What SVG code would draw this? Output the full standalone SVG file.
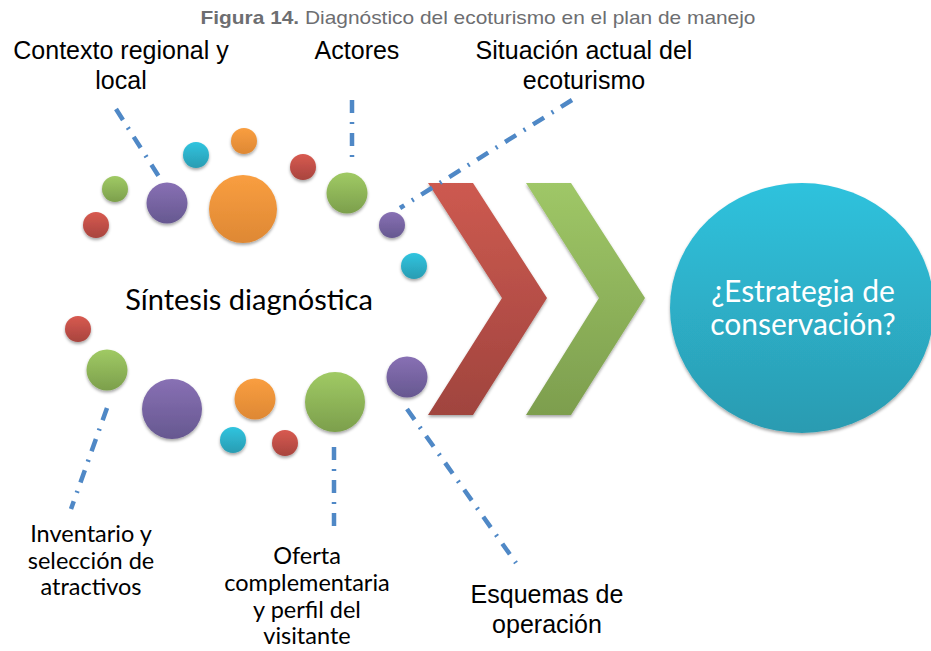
<svg xmlns="http://www.w3.org/2000/svg" width="931" height="651" viewBox="0 0 931 651">
<defs>
<linearGradient id="gRed" x1="0" y1="0" x2="0" y2="1"><stop offset="0" stop-color="#d85a50"/><stop offset="1" stop-color="#a8443e"/></linearGradient>
<linearGradient id="gGreen" x1="0" y1="0" x2="0" y2="1"><stop offset="0" stop-color="#a0ca64"/><stop offset="1" stop-color="#7c9f4c"/></linearGradient>
<linearGradient id="gPurple" x1="0" y1="0" x2="0" y2="1"><stop offset="0" stop-color="#8870b4"/><stop offset="1" stop-color="#665890"/></linearGradient>
<linearGradient id="gOrange" x1="0" y1="0" x2="0" y2="1"><stop offset="0" stop-color="#f99e40"/><stop offset="1" stop-color="#de8834"/></linearGradient>
<linearGradient id="gCyan" x1="0" y1="0" x2="0" y2="1"><stop offset="0" stop-color="#30c4df"/><stop offset="1" stop-color="#2a9cb2"/></linearGradient>
<linearGradient id="gBig" x1="0" y1="0" x2="0" y2="1"><stop offset="0" stop-color="#2fc2dd"/><stop offset="1" stop-color="#2b9bb1"/></linearGradient>
<linearGradient id="gChevR" x1="0" y1="0" x2="0" y2="1"><stop offset="0" stop-color="#cd5a50"/><stop offset="1" stop-color="#a0443e"/></linearGradient>
<linearGradient id="gChevG" x1="0" y1="0" x2="0" y2="1"><stop offset="0" stop-color="#9fc767"/><stop offset="1" stop-color="#7d9e4e"/></linearGradient>
<filter id="sh" x="-30%" y="-30%" width="160%" height="170%"><feDropShadow dx="0" dy="2" stdDeviation="1.6" flood-color="#000" flood-opacity="0.35"/></filter>
</defs>
<style>
.lbl{font-family:"Liberation Sans",Arial,sans-serif;font-size:25px;fill:#000;text-anchor:middle}
.lbl2{font-family:Lato,"Open Sans",sans-serif;font-size:23.5px;fill:#000;text-anchor:middle}
.conn{stroke:#4f88c6;stroke-width:4.5;fill:none;stroke-dasharray:13 9 2 9}
.r{fill:url(#gRed)}.g{fill:url(#gGreen)}.p{fill:url(#gPurple)}.o{fill:url(#gOrange)}.c{fill:url(#gCyan)}
circle{filter:url(#sh)}
</style>
<rect width="931" height="651" fill="#fff"/>
<text x="478" y="24" font-family="Liberation Sans,Arial,sans-serif" font-size="19" fill="#6d6e71" text-anchor="middle" textLength="555" lengthAdjust="spacingAndGlyphs"><tspan font-weight="bold">Figura 14.</tspan> Diagnóstico del ecoturismo en el plan de manejo</text>

<g id="bubbles">
<circle class="r" cx="96" cy="225" r="13"/>
<circle class="g" cx="115" cy="189" r="13"/>
<circle class="p" cx="167" cy="203" r="20.5"/>
<circle class="c" cx="196" cy="155" r="13"/>
<circle class="o" cx="244" cy="141" r="13"/>
<circle class="o" cx="243" cy="209" r="34"/>
<circle class="r" cx="303" cy="167" r="13"/>
<circle class="g" cx="347" cy="193" r="20.5"/>
<circle class="p" cx="392" cy="225" r="13"/>
<circle class="c" cx="414" cy="266" r="13"/>
<circle class="r" cx="78" cy="329" r="13"/>
<circle class="g" cx="107" cy="370" r="20.5"/>
<circle class="p" cx="172" cy="409" r="30"/>
<circle class="o" cx="255" cy="399" r="20.5"/>
<circle class="c" cx="233" cy="440" r="13"/>
<circle class="r" cx="285" cy="443" r="13"/>
<circle class="g" cx="335" cy="402" r="30"/>
<circle class="p" cx="407" cy="377" r="20.5"/>
</g>

<g id="sintesis"><text x="249" y="310" font-family="Lato,'Open Sans',sans-serif" font-size="29" fill="#000" text-anchor="middle">Síntesis diagnóstica</text></g>

<g id="chevrons" filter="url(#sh)">
<polygon points="428,183 473,183 547,298 473,415 428,415 502,298" fill="url(#gChevR)"/>
<polygon points="526,183 571,183 645,298 571,415 526,415 599,298" fill="url(#gChevG)"/>
</g>

<g id="connectors">
<line class="conn" x1="116" y1="109" x2="163" y2="183"/>
<line class="conn" x1="352" y1="100" x2="352" y2="163"/>
<line class="conn" x1="572" y1="100" x2="400" y2="208"/>
<line class="conn" x1="107" y1="408" x2="71" y2="509"/>
<line class="conn" x1="334" y1="447" x2="334" y2="528"/>
<line class="conn" x1="407" y1="409" x2="516" y2="563"/>
</g>

<g id="estrategia">
<ellipse cx="802" cy="308" rx="132" ry="125" fill="url(#gBig)" filter="url(#sh)"/>
<text x="803" y="302" font-family="Lato,'Open Sans',sans-serif" font-size="30" fill="#fff" text-anchor="middle">¿Estrategia de</text>
<text x="803" y="335" font-family="Lato,'Open Sans',sans-serif" font-size="30" fill="#fff" text-anchor="middle">conservación?</text>
</g>

<g id="contexto"><text class="lbl" x="121" y="59">Contexto regional y</text><text class="lbl" x="121" y="89">local</text></g>
<g id="actores"><text class="lbl" x="357" y="59">Actores</text></g>
<g id="situacion"><text class="lbl" x="584" y="59">Situación actual del</text><text class="lbl" x="584" y="89">ecoturismo</text></g>
<g id="inventario"><text class="lbl2" x="91" y="542">Inventario y</text><text class="lbl2" x="91" y="569">selección de</text><text class="lbl2" x="91" y="595">atractivos</text></g>
<g id="oferta"><text class="lbl2" x="307" y="564">Oferta</text><text class="lbl2" x="307" y="591">complementaria</text><text class="lbl2" x="307" y="618">y perfil del</text><text class="lbl2" x="307" y="644">visitante</text></g>
<g id="esquemas"><text class="lbl" x="547" y="603">Esquemas de</text><text class="lbl" x="547" y="633">operación</text></g>
</svg>
